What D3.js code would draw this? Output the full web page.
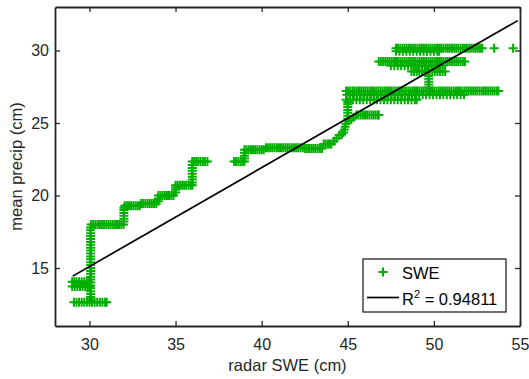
<!DOCTYPE html>
<html><head><meta charset="utf-8">
<script src="https://cdn.jsdelivr.net/npm/d3@7"></script>
<style>html,body{margin:0;padding:0;background:#fff;} svg{display:block;}</style>
</head><body><svg id="chart" width="529" height="379"></svg>
<script>
// ---- data ----
const xTicks = [30, 35, 40, 45, 50, 55];
const yTicks = [15, 20, 25, 30];
const xLabel = "radar SWE (cm)";
const yLabel = "mean precip (cm)";
const seriesName = "SWE";
const r2Text = "0.94811";

// horizontal runs: gauge value (mean precip) and the radar SWE readings along it
const stepPrecip = [12.64, 13.72, 14.06, 18.0, 19.3, 19.45, 20.0, 20.7, 22.35, 22.35,
  23.15, 23.3, 23.25, 23.55, 25.56, 27.2, 26.95, 26.6, 28.55, 28.95, 29.25, 29.95, 30.15, 30.15];
const stepSwe = [
  [29.1,29.25,29.4,29.55,29.7,29.85,30.0,30.15,30.3,30.45,30.6,30.75,30.9,31.0],
  [29.0,29.15,29.3,29.45,29.6,29.75,29.9,30.0],
  [29.0,29.12,29.25,29.4,29.55,29.7,29.85,29.95],
  [30.1,30.22,30.35,30.48,30.6,30.72,30.85,30.98,31.1,31.22,31.35,31.48,31.6,31.72,31.85,31.98],
  [32.05,32.18,32.3,32.42,32.55,32.68,32.8,32.92],
  [33.0,33.12,33.25,33.38,33.5,33.62,33.75,33.88],
  [34.0,34.12,34.25,34.38,34.5,34.62,34.75,34.88],
  [35.0,35.12,35.25,35.38,35.5,35.62,35.75,35.88,35.97],
  [35.97,36.08,36.2,36.32,36.45,36.58,36.7,36.85],
  [38.4,38.52,38.65,38.78,38.9,39.0],
  [39.0,39.12,39.25,39.38,39.5,39.62,39.75,39.88,40.0,40.12],
  [40.25,40.38,40.5,40.62,40.75,40.88,41.0,41.12,41.25,41.38,41.5,41.62,41.75,41.88,42.0,42.12,42.25,42.38],
  [42.5,42.62,42.75,42.88,43.0,43.12,43.25,43.38,43.5],
  [43.6,43.72,43.85,43.95,44.05],
  [45.5,45.62,45.75,45.88,46.0,46.12,46.25,46.38,46.5,46.62,46.75,46.8],
  [44.9,45.02,45.15,45.28,45.4,45.52,45.65,45.78,45.9,46.02,46.15,46.28,46.4,46.52,46.65,46.78,46.9,47.02,47.15,47.28,47.4,47.52,47.65,47.78,47.9,48.02,48.15,48.28,48.4,48.52,48.65,48.78,48.9,49.02,49.15,49.28,49.4,49.52,49.65,49.78,49.9,50.02,50.15,50.28,50.4,50.52,50.65,50.78,50.9,51.02,51.15,51.28,51.4,51.52,51.65,51.78,51.9,52.02,52.15,52.28,52.4,52.52,52.65,52.78,52.9,53.02,53.15,53.28,53.4,53.52,53.65,53.75],
  [44.95,45.15,45.35,45.55,45.75,45.95,46.15,46.35,46.55,46.75,46.95,47.15,47.35,47.55,47.75,47.95,48.15,48.35,48.55,48.75,48.95,49.15,49.35,49.55,49.75,49.95,50.15,50.35,50.55,50.75,50.95,51.15,51.35,51.55,51.75],
  [44.9,45.1,45.3,45.5,45.7,45.9,46.1,46.3,46.5,46.7,46.9,47.1,47.3,47.5,47.7,47.9,48.1,48.3,48.5,48.7,48.9,49.0],
  [48.7,48.85,49.0,49.15,49.3,49.45,49.6,49.75,49.9,50.05,50.2,50.35,50.5,50.65],
  [47.5,47.7,47.9,48.1,48.3,48.5,48.7,48.9,49.1,49.3,49.5,49.7,49.9,50.1,50.3,50.5],
  [46.8,46.92,47.05,47.18,47.3,47.42,47.55,47.68,47.8,47.92,48.05,48.18,48.3,48.42,48.55,48.68,48.8,48.92,49.05,49.18,49.3,49.42,49.55,49.68,49.8,49.92,50.05,50.18,50.3,50.42,50.55,50.68,50.8,50.92,51.05,51.18,51.3,51.42,51.55,51.68,51.8],
  [47.8,48.0,48.2,48.4,48.6,48.8,49.0,49.2,49.4,49.6,49.8,50.0,50.2,50.3],
  [47.8,47.92,48.05,48.18,48.3,48.42,48.55,48.68,48.8,48.92,49.05,49.18,49.3,49.42,49.55,49.68,49.8,49.92,50.05,50.18,50.3,50.42,50.55,50.68,50.8,50.92,51.05,51.18,51.3,51.42,51.55,51.68,51.8,51.92,52.05,52.18,52.3,52.42,52.55,52.68,52.8],
  [53.5,54.6]
];

// vertical rises: radar SWE value and the gauge readings along it
const riseSwe = [30.07, 32.0, 34.0, 35.0, 35.97, 39.0, 45.0, 49.7];
const risePrecip = [
  [12.8,13.0,13.2,13.4,13.6,13.8,14.0,14.2,14.4,14.6,14.8,15.0,15.2,15.4,15.6,15.8,16.0,16.2,16.4,16.6,16.8,17.0,17.2,17.4,17.6,17.8],
  [18.2,18.4,18.6,18.8,19.0,19.15],
  [19.6,19.8],
  [20.2,20.4,20.55],
  [20.9,21.1,21.3,21.5,21.7,21.9,22.1],
  [22.55,22.75,22.95],
  [25.3,25.5,25.7,25.9,26.1,26.3,26.45],
  [27.45,27.65,27.85,28.05,28.25]
];

// transitional readings (staircase near 44-46 cm)
const stairSwe =    [44.2, 44.35, 44.5, 44.65, 44.75, 44.8, 44.85, 44.9, 45.05, 45.2, 45.35];
const stairPrecip = [23.75, 23.95, 24.15, 24.2, 24.35, 24.55, 24.75, 24.95, 25.15, 25.25, 25.4];

// linear fit line end points
const fitSwe = [29.03, 54.87];
const fitPrecip = [14.44, 32.06];

// ---- build point table ----
const points = [];
stepPrecip.forEach((p, i) => stepSwe[i].forEach(s => points.push({swe: s, precip: p})));
riseSwe.forEach((s, i) => risePrecip[i].forEach(p => points.push({swe: s, precip: p})));
stairSwe.forEach((s, i) => points.push({swe: s, precip: stairPrecip[i]}));

// ---- drawing ----
const W = 529, H = 379;
const m = {left: 55, right: 520, top: 7, bottom: 326};
const svg = d3.select("#chart");
const txt = "#262626";
const green = "rgb(0,175,0)";
const font = "'Liberation Sans', Arial, Helvetica, sans-serif";

const x = d3.scaleLinear().domain([28, 55]).range([m.left, m.right]);
const y = d3.scaleLinear().domain([11, 33]).range([m.bottom, m.top]);

svg.append("rect").attr("width", W).attr("height", H).attr("fill", "#fff");

// markers
const plus = "M-4.5,0H4.5M0,-4.5V4.5";
svg.append("g").selectAll("path").data(points).join("path")
  .attr("d", plus)
  .attr("transform", d => `translate(${x(d.swe)},${y(d.precip)})`)
  .attr("stroke", green).attr("stroke-width", 2).attr("fill", "none");

// fit line
svg.append("path")
  .datum(fitSwe.map((s, i) => [s, fitPrecip[i]]))
  .attr("d", d3.line().x(d => x(d[0])).y(d => y(d[1])))
  .attr("stroke", "#000").attr("stroke-width", 1.7).attr("fill", "none");

// axes
function styleAxis(g) {
  g.select(".domain").attr("stroke", txt).attr("stroke-width", 1.8);
  g.selectAll(".tick line").attr("stroke", txt).attr("stroke-width", 1.3);
  g.selectAll(".tick text").attr("fill", txt).style("font-family", font).style("font-size", "16px");
}
svg.append("g").attr("transform", `translate(0,${m.bottom})`)
  .call(d3.axisBottom(x).tickValues(xTicks).tickSizeInner(-5).tickSizeOuter(0).tickPadding(13))
  .call(styleAxis);
svg.append("g").attr("transform", `translate(0,${m.top})`)
  .call(d3.axisTop(x).tickValues(xTicks).tickSizeInner(-5).tickSizeOuter(0).tickFormat(""))
  .call(styleAxis);
svg.append("g").attr("transform", `translate(${m.left},0)`)
  .call(d3.axisLeft(y).tickValues(yTicks).tickSizeInner(-5).tickSizeOuter(0).tickPadding(6))
  .call(styleAxis);
svg.append("g").attr("transform", `translate(${m.right},0)`)
  .call(d3.axisRight(y).tickValues(yTicks).tickSizeInner(-5).tickSizeOuter(0).tickFormat(""))
  .call(styleAxis);

// axis labels
svg.append("text").attr("x", (m.left + m.right) / 2).attr("y", 371)
  .attr("text-anchor", "middle").attr("fill", txt)
  .style("font-family", font).style("font-size", "16.5px").text(xLabel);
svg.append("text").attr("transform", `translate(22,${(m.top + m.bottom) / 2}) rotate(-90)`)
  .attr("text-anchor", "middle").attr("fill", txt)
  .style("font-family", font).style("font-size", "16.5px").text(yLabel);

// legend
const lg = svg.append("g");
lg.append("rect").attr("x", 363).attr("y", 259).attr("width", 143).attr("height", 53)
  .attr("fill", "#fff").attr("stroke", txt).attr("stroke-width", 1.3);
lg.append("path").attr("d", plus).attr("transform", "translate(383,272)")
  .attr("stroke", green).attr("stroke-width", 2).attr("fill", "none");
lg.append("text").attr("x", 402).attr("y", 278.5).attr("fill", "#000")
  .style("font-family", font).style("font-size", "16.5px").text(seriesName);
lg.append("line").attr("x1", 367).attr("x2", 399).attr("y1", 297.5).attr("y2", 297.5)
  .attr("stroke", "#000").attr("stroke-width", 1.7);
const rt = lg.append("text").attr("x", 402).attr("y", 304.5).attr("fill", "#000")
  .style("font-family", font).style("font-size", "16.5px");
rt.append("tspan").text("R");
rt.append("tspan").attr("dy", -7).style("font-size", "11px").text("2");
rt.append("tspan").attr("dy", 7).text(" = " + r2Text);
</script></body></html>
